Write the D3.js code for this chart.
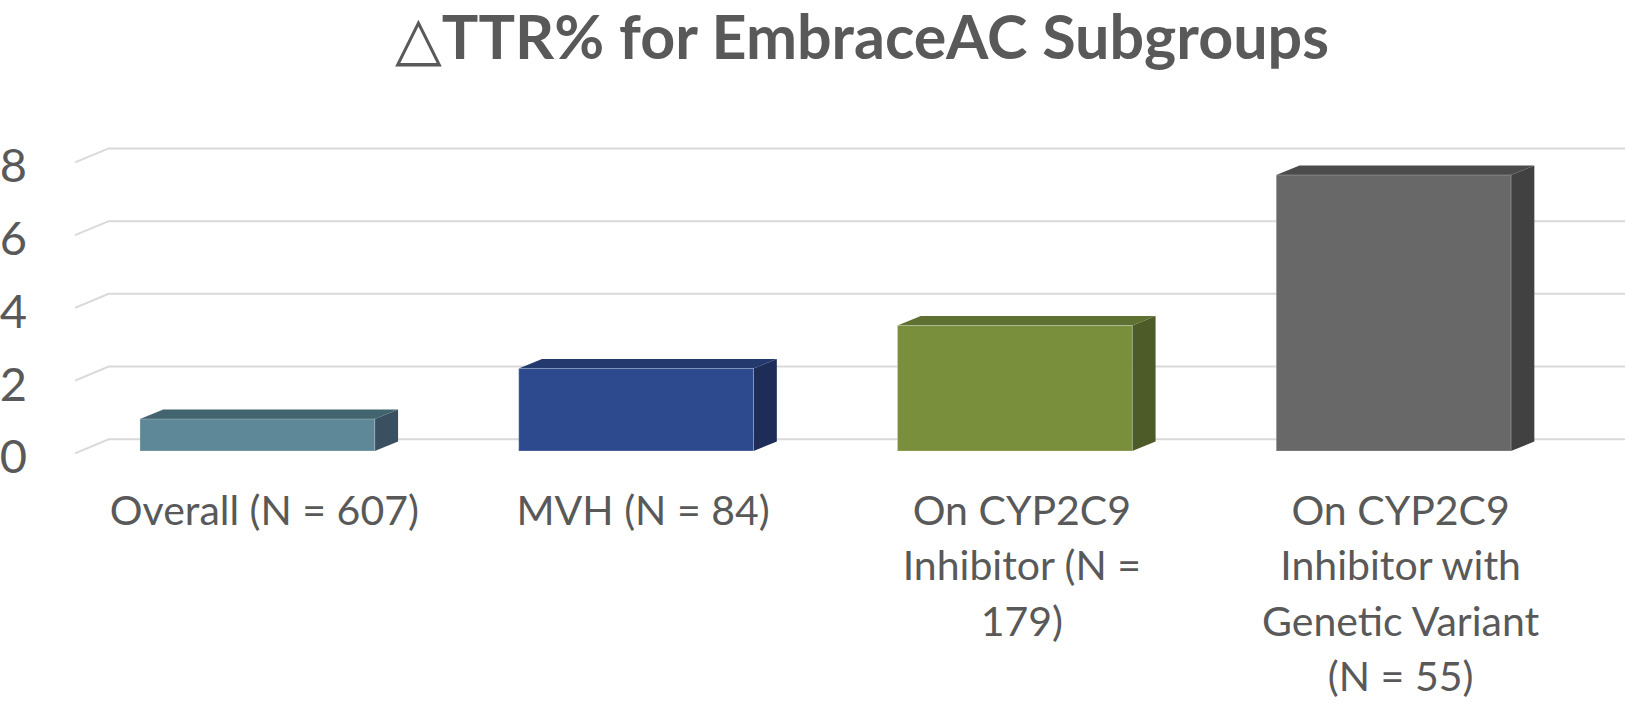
<!DOCTYPE html>
<html>
<head>
<meta charset="utf-8">
<script src="https://cdn.jsdelivr.net/npm/d3@7"></script>
<style>
  html, body { margin: 0; padding: 0; background: #ffffff; }
  svg { display: block; }
  text { font-family: Lato, "Open Sans", "DejaVu Sans", sans-serif; fill: #595959; }
</style>
</head>
<body>
<svg id="chart" width="1625" height="706"></svg>
<script>
// ---- data ----
const title = "\u25B3TTR% for EmbraceAC Subgroups";
const categories = [
  "Overall (N = 607)",
  "MVH (N = 84)",
  "On CYP2C9 Inhibitor (N = 179)",
  "On CYP2C9 Inhibitor with Genetic Variant (N = 55)"
];
const categoryLines = [
  ["Overall (N = 607)"],
  ["MVH (N = 84)"],
  ["On CYP2C9", "Inhibitor (N =", "179)"],
  ["On CYP2C9", "Inhibitor with", "Genetic Variant", "(N = 55)"]
];
const values = [0.88, 2.27, 3.45, 7.59];
const yTicks = [0, 2, 4, 6, 8];

// ---- styles ----
const frontColors = ["#5E8797", "#2E4A8F", "#7A8F3B", "#686868"];
const topColors   = ["#42646F", "#243A6F", "#5E7032", "#4B4B4B"];
const sideColors  = ["#3A4F5F", "#1E2D58", "#4D5B29", "#414141"];

const svg = d3.select("#chart");

// ---- geometry ----
const backBase = 439.3;          // y of value 0 on back wall
const floorDX = 33.7, floorDY = 14;   // floor depth projection
const barDX = 23.3, barDY = 9.5;      // bar depth projection
const barFrontBase = 451;        // y of value 0 at bar front face
const barShift = -7;

const y = d3.scaleLinear().domain([0, 8]).range([0, 290.9]);
const x = d3.scaleBand().domain(categories).range([75, 1590]).padding(0);
const barW = x.bandwidth() * 0.62;

// gridlines (back wall + side wall)
const grid = svg.append("g");
yTicks.forEach(t => {
  const by = backBase - y(t);
  grid.append("path")
    .attr("d", `M75,${by + floorDY} L${75 + floorDX},${by} L1625,${by}`)
    .attr("fill", "none")
    .attr("stroke", "#D9D9D9")
    .attr("stroke-width", 2);
});

// y tick labels
svg.append("g").selectAll("text")
  .data(yTicks).join("text")
  .attr("x", 27)
  .attr("y", d => backBase - y(d) + 34)
  .attr("text-anchor", "end")
  .attr("font-size", 47)
  .text(d => d);

// bars
const bars = svg.append("g");
categories.forEach((c, i) => {
  const v = values[i];
  const x0 = x(c) + x.bandwidth() / 2 + barShift - barW / 2;
  const x1 = x0 + barW;
  const yb = barFrontBase;
  const yt = barFrontBase - y(v);
  bars.append("path")
    .attr("d", `M${x1},${yt} L${x1 + barDX},${yt - barDY} L${x1 + barDX},${yb - barDY} L${x1},${yb} Z`)
    .attr("fill", sideColors[i]);
  bars.append("path")
    .attr("d", `M${x0},${yt} L${x0 + barDX},${yt - barDY} L${x1 + barDX},${yt - barDY} L${x1},${yt} Z`)
    .attr("fill", topColors[i]);
  bars.append("rect")
    .attr("x", x0).attr("y", yt)
    .attr("width", barW).attr("height", yb - yt)
    .attr("fill", frontColors[i])
    .attr("stroke", "rgba(255,255,255,0.25)")
    .attr("stroke-width", 1);
});

// category labels
const lab = svg.append("g");
categories.forEach((c, i) => {
  const cx = x(c) + x.bandwidth() / 2;
  const t = lab.append("text")
    .attr("text-anchor", "middle")
    .attr("font-size", 41);
  categoryLines[i].forEach((line, k) => {
    t.append("tspan")
      .attr("x", cx)
      .attr("y", 525 + k * 55.3)
      .text(line);
  });
});

// title
svg.append("text")
  .attr("x", 862)
  .attr("y", 59)
  .attr("text-anchor", "middle")
  .attr("font-size", 61)
  .attr("font-weight", "bold")
  .text(title);
</script>
</body>
</html>
